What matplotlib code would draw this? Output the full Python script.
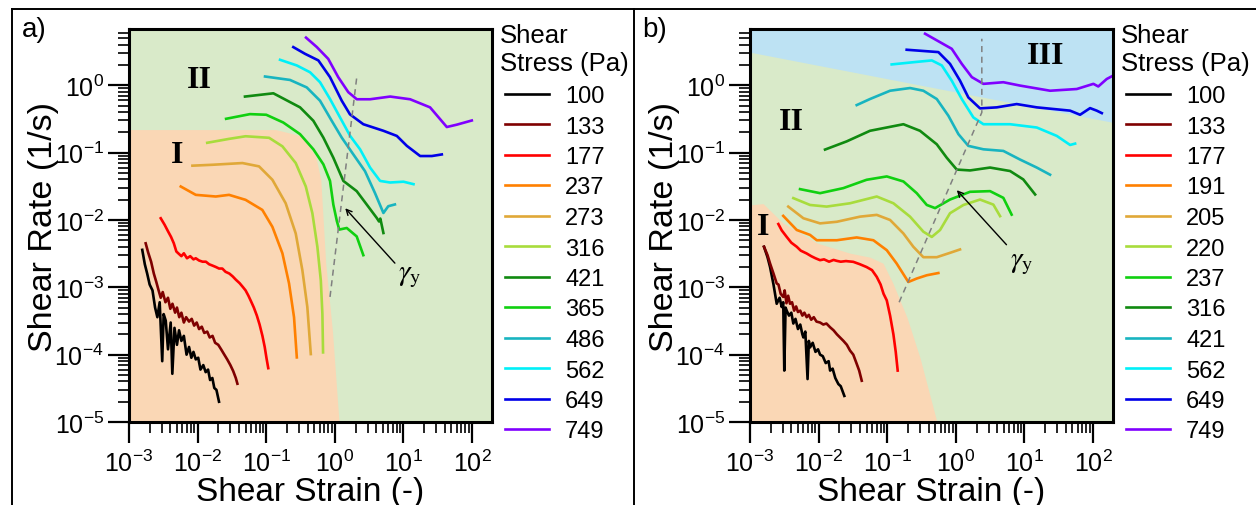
import numpy as np
import matplotlib
matplotlib.use('Agg')
import matplotlib.pyplot as plt
from matplotlib.lines import Line2D
from matplotlib.ticker import LogLocator, NullFormatter

plt.rcParams['font.family'] = ['Liberation Sans', 'DejaVu Sans']
plt.rcParams['mathtext.fontset'] = 'stix'

# ---------------- panel a data ----------------
a_labels = ['100', '133', '177', '237', '273', '316', '421', '365', '486', '562', '649', '749']
a_colors = ['#000000', '#7f0000', '#ff0000', '#ff8000', '#e0a838', '#a8dc3c',
            '#108a10', '#10d010', '#18b4c0', '#00f0f8', '#0000e8', '#8000ff']

a100_x = [0.00156, 0.0017, 0.00184, 0.002, 0.0022, 0.0024, 0.00259, 0.0028, 0.00305, 0.0032, 0.00343,
          0.0037, 0.00405, 0.00428, 0.0046, 0.005, 0.00536, 0.0058, 0.0063, 0.0069, 0.0075, 0.0081,
          0.0087, 0.0094, 0.0102, 0.011, 0.0121, 0.0131, 0.0142, 0.0152, 0.0164, 0.0175, 0.0188, 0.0205]
a100_y = [0.0036, 0.0022, 0.0016, 0.0011, 0.0009, 0.0005, 0.00036, 0.0006, 0.00008, 0.0004, 0.00032,
          0.00012, 0.0003, 0.000052, 0.00025, 0.00014, 0.00023, 0.00016, 0.00019, 0.0001, 0.00013, 0.00009,
          0.00011, 0.000085, 0.00009, 0.00006, 0.00007, 0.000055, 0.00006, 0.000042, 0.000045, 0.000032,
          0.00003, 0.00002]
a133_x = [0.00175, 0.0019, 0.0021, 0.0023, 0.0025, 0.0027, 0.0029, 0.0031, 0.0034, 0.0037, 0.004, 0.0043,
          0.0047, 0.005, 0.0054, 0.0058, 0.0063, 0.0068, 0.0075, 0.0082, 0.0089, 0.0097, 0.0105, 0.0115,
          0.0125, 0.0138, 0.015, 0.0165, 0.018, 0.02, 0.022, 0.0245, 0.027, 0.03, 0.033, 0.036, 0.038]
a133_y = [0.0045, 0.0033, 0.0024, 0.0016, 0.0012, 0.0009, 0.0007, 0.00085, 0.0006, 0.0007, 0.00048,
          0.00057, 0.00042, 0.0005, 0.00036, 0.00042, 0.0003, 0.00036, 0.00031, 0.00034, 0.00027, 0.0003,
          0.00024, 0.00026, 0.00021, 0.00022, 0.00018, 0.00019, 0.00015, 0.00014, 0.00012, 0.0001,
          0.000085, 0.00007, 0.000057, 0.000045, 0.000037]
a177_x = [0.0029, 0.0033, 0.0037, 0.0041, 0.0045, 0.0049, 0.0054, 0.0058, 0.0063, 0.007, 0.0078, 0.0087,
          0.0094, 0.0105, 0.0118, 0.0132, 0.0147, 0.0165, 0.0185, 0.0205, 0.0229, 0.0255, 0.029, 0.0325,
          0.036, 0.041, 0.046, 0.05, 0.055, 0.06, 0.066, 0.073, 0.08, 0.088, 0.095, 0.101, 0.107]
a177_y = [0.0106, 0.0085, 0.0068, 0.0056, 0.0045, 0.0034, 0.0031, 0.0029, 0.0032, 0.0027, 0.0029, 0.0026,
          0.0027, 0.0025, 0.0024, 0.0024, 0.0022, 0.0021, 0.002, 0.0019, 0.0019, 0.0017, 0.0016, 0.00145,
          0.0013, 0.00115, 0.001, 0.0009, 0.00075, 0.00062, 0.0005, 0.00038, 0.00028, 0.00019, 0.00013,
          0.000088, 0.000063]
a237_x = [0.00568, 0.0094, 0.0184, 0.0287, 0.05, 0.0877, 0.123, 0.172, 0.215, 0.254, 0.279]
a237_y = [0.0314, 0.0236, 0.0223, 0.0236, 0.0199, 0.0141, 0.0079, 0.0032, 0.00114, 0.00036, 0.000091]
a273_x = [0.0084, 0.0164, 0.045, 0.0785, 0.123, 0.192, 0.269, 0.336, 0.397, 0.446]
a273_y = [0.064, 0.066, 0.07, 0.0625, 0.0395, 0.0177, 0.0063, 0.0018, 0.00051, 0.000102]
a316_x = [0.0138, 0.0287, 0.05, 0.11, 0.172, 0.269, 0.377, 0.47, 0.556, 0.624, 0.658, 0.673]
a316_y = [0.14, 0.16, 0.175, 0.166, 0.124, 0.07, 0.0314, 0.0126, 0.004, 0.00127, 0.000405, 0.000108]
a421_x = [0.049, 0.127, 0.311, 0.486, 0.68, 0.95, 1.33, 2.08, 2.92, 4.08, 4.4, 4.6, 5.1]
a421_y = [0.68, 0.76, 0.47, 0.297, 0.167, 0.084, 0.038, 0.0268, 0.0169, 0.0107, 0.0095, 0.0105, 0.0064]
a365_x = [0.026, 0.058, 0.1, 0.177, 0.311, 0.486, 0.68, 0.85, 0.95, 1.07, 1.16, 1.49, 2.08, 2.6]
a365_y = [0.318, 0.373, 0.365, 0.28, 0.188, 0.112, 0.067, 0.038, 0.0169, 0.0096, 0.0072, 0.0076, 0.0057, 0.003]
a486_x = [0.096, 0.222, 0.389, 0.608, 0.9, 1.26, 1.86, 2.75, 3.85, 5.1, 6.0, 7.5]
a486_y = [1.35, 1.2, 0.93, 0.59, 0.297, 0.167, 0.094, 0.053, 0.025, 0.0127, 0.016, 0.017]
a562_x = [0.159, 0.279, 0.435, 0.608, 0.85, 1.19, 1.67, 2.33, 3.26, 4.56, 6.38, 10, 14]
a562_y = [2.39, 1.97, 1.56, 1.11, 0.625, 0.333, 0.177, 0.112, 0.06, 0.038, 0.036, 0.037, 0.034]
a649_x = [0.248, 0.368, 0.575, 0.85, 1.26, 1.66, 2.6, 5.1, 8.0, 11.2, 17.5, 25.9, 36.2]
a649_y = [3.69, 2.93, 2.34, 1.32, 0.59, 0.37, 0.264, 0.211, 0.177, 0.126, 0.089, 0.089, 0.094]
a749_x = [0.38, 0.545, 0.8, 1.12, 1.57, 2.09, 3.26, 6.4, 12.5, 24.4, 42.8, 59.8, 99]
a749_y = [5.1, 3.7, 2.47, 1.32, 0.79, 0.62, 0.62, 0.68, 0.62, 0.47, 0.24, 0.26, 0.3]

# region I outline (panel a)
a_reg1_x = [1e-3, 0.138, 0.336, 0.527, 0.624, 0.736, 0.92, 1.15]
a_reg1_y = [0.22, 0.22, 0.175, 0.088, 0.0395, 0.00226, 0.00023, 1e-5]
a_yield_x = [0.85, 2.08]
a_yield_y = [0.00072, 1.29]

# ---------------- panel b data ----------------
b_labels = ['100', '133', '177', '191', '205', '220', '237', '316', '421', '562', '649', '749']
b_colors = ['#000000', '#7f0000', '#ff0000', '#ff8000', '#e0a838', '#a8dc3c',
            '#10d010', '#108a10', '#18b4c0', '#00f0f8', '#0000e8', '#8000ff']

b100_x = [0.0016, 0.0018, 0.00196, 0.0022, 0.00245, 0.0027, 0.0029, 0.00305, 0.00316, 0.0033, 0.00343,
          0.0037, 0.004, 0.00428, 0.0046, 0.005, 0.0054, 0.0058, 0.006, 0.0064, 0.0069, 0.0072, 0.0075,
          0.0082, 0.009, 0.0098, 0.0105, 0.0115, 0.0127, 0.014, 0.0147, 0.016, 0.0175, 0.0194, 0.021, 0.0237]
b100_y = [0.004, 0.0028, 0.002, 0.0011, 0.00057, 0.0007, 0.00051, 0.0006, 0.000058, 0.0005, 0.00045,
          0.00038, 0.00042, 0.00029, 0.00034, 0.00024, 0.00028, 0.0002, 0.00018, 0.00022, 0.0000434,
          0.00016, 0.000128, 0.00015, 0.00011, 0.00012, 0.0001, 0.000095, 0.000075, 0.00008, 0.000058,
          0.000062, 0.000045, 0.0000366, 0.000034, 0.0000244]
b133_x = [0.0016, 0.0018, 0.00196, 0.0022, 0.00245, 0.0026, 0.0028, 0.00305, 0.0032, 0.0034, 0.0036,
          0.00383, 0.0041, 0.0044, 0.0047, 0.005, 0.0054, 0.0058, 0.0062, 0.0067, 0.0072, 0.0078, 0.0085,
          0.0093, 0.0105, 0.0117, 0.013, 0.0147, 0.0165, 0.0185, 0.0205, 0.023, 0.0258, 0.0287, 0.032,
          0.0359, 0.039, 0.0425]
b133_y = [0.004, 0.003, 0.00226, 0.0016, 0.00114, 0.0011, 0.0008, 0.00072, 0.0009, 0.00058, 0.00075,
          0.00057, 0.0006, 0.00045, 0.00052, 0.00043, 0.00045, 0.00038, 0.00042, 0.00036, 0.00039, 0.00033,
          0.00036, 0.00031, 0.0003, 0.00028, 0.00029, 0.000255, 0.00023, 0.0002, 0.00018, 0.00016, 0.00014,
          0.000115, 0.0001, 0.000073, 0.000058, 0.000041]
b177_x = [0.00259, 0.0029, 0.00343, 0.004, 0.0048, 0.0055, 0.0067, 0.0078, 0.009, 0.0105, 0.012, 0.0142,
          0.0165, 0.0184, 0.021, 0.025, 0.032, 0.04, 0.05, 0.06, 0.0703, 0.08, 0.0884, 0.0984, 0.11, 0.123,
          0.133, 0.142]
b177_y = [0.0087, 0.007, 0.0056, 0.0046, 0.004, 0.0035, 0.00318, 0.0029, 0.0027, 0.00253, 0.0026, 0.0024,
          0.00255, 0.00247, 0.0024, 0.00245, 0.00239, 0.0022, 0.002, 0.0018, 0.00143, 0.0011, 0.0008,
          0.00064, 0.00038, 0.0002, 0.00011, 0.000058]
b191_x = [0.00305, 0.0048, 0.0075, 0.0094, 0.0184, 0.0359, 0.0628, 0.0984, 0.137, 0.203, 0.269, 0.377, 0.556]
b191_y = [0.0115, 0.0071, 0.006, 0.005, 0.005, 0.0055, 0.005, 0.00356, 0.00226, 0.0012, 0.00135, 0.00151, 0.00163]
b205_x = [0.00361, 0.006, 0.0105, 0.0184, 0.0401, 0.0703, 0.11, 0.172, 0.24, 0.336, 0.527, 0.822, 1.15]
b205_y = [0.0158, 0.0106, 0.0089, 0.0094, 0.0112, 0.0119, 0.01, 0.0063, 0.004, 0.0028, 0.0028, 0.00325, 0.00365]
b220_x = [0.00428, 0.0075, 0.0131, 0.0287, 0.0703, 0.123, 0.215, 0.336, 0.446, 0.589, 0.822, 1.29, 2.25, 3.52, 4.41]
b220_y = [0.0211, 0.0167, 0.0158, 0.0177, 0.0223, 0.0177, 0.0112, 0.0067, 0.0056, 0.0071, 0.0126, 0.0167,
          0.0201, 0.0169, 0.0114]
b237_x = [0.00536, 0.0105, 0.0229, 0.05, 0.0984, 0.172, 0.269, 0.377, 0.498, 0.822, 1.61, 3.15, 4.92, 6.5]
b237_y = [0.0287, 0.025, 0.0297, 0.0395, 0.0443, 0.0373, 0.025, 0.0167, 0.015, 0.0201, 0.0262, 0.0268, 0.0213, 0.012]
b316_x = [0.0124, 0.0257, 0.0561, 0.172, 0.3, 0.527, 0.736, 1.03, 1.61, 3.15, 6.17, 9.6, 14.3]
b316_y = [0.111, 0.147, 0.211, 0.264, 0.211, 0.133, 0.084, 0.056, 0.0544, 0.06, 0.0533, 0.04, 0.0239]
b421_x = [0.0359, 0.0561, 0.11, 0.215, 0.336, 0.527, 0.778, 1.09, 1.52, 2.52, 4.92, 8.6, 15.1, 23.6]
b421_y = [0.508, 0.625, 0.83, 0.91, 0.83, 0.625, 0.353, 0.188, 0.126, 0.112, 0.106, 0.079, 0.06, 0.047]
b562_x = [0.116, 0.24, 0.446, 0.624, 0.871, 1.22, 1.8, 2.52, 6.17, 15.1, 29.6, 46.2, 54.7]
b562_y = [2.04, 2.2, 2.34, 1.97, 1.17, 0.625, 0.333, 0.264, 0.264, 0.236, 0.177, 0.13, 0.136]
b649_x = [0.192, 0.556, 0.822, 1.15, 1.52, 2.25, 3.95, 7.7, 15.1, 46.2, 64.6, 90.4, 113, 134]
b649_y = [3.37, 3.11, 2.08, 1.17, 0.66, 0.454, 0.47, 0.526, 0.47, 0.42, 0.365, 0.458, 0.42, 0.386]
b749_x = [0.356, 0.527, 0.871, 1.22, 1.71, 2.52, 4.92, 8.6, 23.6, 57.8, 101, 119, 158, 198]
b749_y = [5.83, 4.65, 3.48, 2.08, 1.32, 1.05, 1.11, 0.99, 0.83, 0.88, 1.05, 0.96, 1.24, 1.4]

b_reg1_x = [1e-3, 0.00155, 0.00303, 0.0095, 0.0287, 0.0561, 0.0868, 0.121, 0.194, 0.3, 0.53]
b_reg1_y = [0.0167, 0.0175, 0.009, 0.00454, 0.00321, 0.0028, 0.00228, 0.00115, 0.000357, 0.00009, 1e-5]
b_reg3_x = [1e-3, 200]
b_reg3_y = [3.1, 0.28]
b_yield_x = [0.149, 2.39, 2.39]
b_yield_y = [0.0006, 0.395, 4.91]

GREEN = '#d9eac9'
PEACH = '#fad7b5'
BLUE = '#bde2f3'
XMIN, XMAX = 1e-3, 195
YMIN, YMAX = 1e-5, 6.85

a_series = [(a100_x, a100_y), (a133_x, a133_y), (a177_x, a177_y), (a237_x, a237_y),
            (a273_x, a273_y), (a316_x, a316_y), (a421_x, a421_y), (a365_x, a365_y),
            (a486_x, a486_y), (a562_x, a562_y), (a649_x, a649_y), (a749_x, a749_y)]
b_series = [(b100_x, b100_y), (b133_x, b133_y), (b177_x, b177_y), (b191_x, b191_y),
            (b205_x, b205_y), (b220_x, b220_y), (b237_x, b237_y), (b316_x, b316_y),
            (b421_x, b421_y), (b562_x, b562_y), (b649_x, b649_y), (b749_x, b749_y)]

W, H = 1256, 506
fig = plt.figure(figsize=(W / 100, H / 100), dpi=100)
ax_a = fig.add_axes([129 / W, 83 / H, 363 / W, 393 / H])
ax_b = fig.add_axes([750 / W, 83 / H, 363 / W, 393 / H])


def style(ax):
    ax.set_xscale('log')
    ax.set_yscale('log')
    ax.set_xlim(XMIN, XMAX)
    ax.set_ylim(YMIN, YMAX)
    ax.set_facecolor(GREEN)
    for s in ax.spines.values():
        s.set_linewidth(2.2)
    ax.xaxis.set_major_locator(LogLocator(base=10, numticks=20))
    ax.yaxis.set_major_locator(LogLocator(base=10, numticks=20))
    ax.xaxis.set_minor_locator(LogLocator(base=10, subs=np.arange(2, 10), numticks=100))
    ax.yaxis.set_minor_locator(LogLocator(base=10, subs=np.arange(2, 10), numticks=100))
    ax.xaxis.set_minor_formatter(NullFormatter())
    ax.yaxis.set_minor_formatter(NullFormatter())
    ax.tick_params(which='major', direction='out', length=15, width=1.6, labelsize=18)
    ax.tick_params(axis='x', which='major', pad=5)
    ax.tick_params(axis='y', which='major', pad=3)
    ax.tick_params(which='minor', direction='out', length=8, width=1.2)
    ax.tick_params(top=False, right=False, which='both')
    ax.set_xlabel('Shear Strain (-)', fontsize=24, va='center')
    ax.xaxis.set_label_coords(0.5, -0.178)
    ax.set_ylabel('Shear Rate (1/s)', fontsize=24.5, va='center')
    ax.yaxis.set_label_coords(-0.235, 0.5)


def add_legend(ax, lines, labels, x_left):
    fig.text(x_left / W, 1 - 24 / H, 'Shear\nStress (Pa)', fontsize=18.5, ha='left', va='top',
             linespacing=1.22)
    ax.legend(lines, labels, loc='upper left', bbox_to_anchor=((x_left + 5) / W, 1 - 86 / H),
              bbox_transform=fig.transFigure, frameon=False, fontsize=17,
              handlelength=1.85, handletextpad=0.7, labelspacing=0.36,
              borderpad=0, borderaxespad=0)


roman = dict(fontfamily='Liberation Serif', fontweight='bold', fontsize=23, ha='center', va='center')
lw = 1.9

# panel a
style(ax_a)
ax_a.fill_between(a_reg1_x, YMIN, a_reg1_y, color=PEACH, lw=0, zorder=0.5)
a_lines = []
for (x, y), c in zip(a_series, a_colors):
    a_lines += ax_a.plot(x, y, color=c, lw=lw)
ax_a.plot(a_yield_x, a_yield_y, color='#808080', ls=(0, (4, 3)), lw=1.1)
ax_a.annotate('', xy=(1.33, 0.016), xytext=(7.98, 0.00213),
              arrowprops=dict(arrowstyle='->', color='k', lw=1.0))
ax_a.text(12.5, 0.0015, r'$\gamma_{\mathrm{y}}$', fontsize=21, ha='center', va='center')
ax_a.text(0.0105, 1.23, 'II', **roman)
ax_a.text(0.00495, 0.093, 'I', **roman)
add_legend(ax_a, a_lines, a_labels, 500)

# panel b
style(ax_b)
ax_b.fill_between(b_reg1_x, YMIN, b_reg1_y, color=PEACH, lw=0, zorder=0.5)
ax_b.fill_between(b_reg3_x, b_reg3_y, 10, color=BLUE, lw=0, zorder=0.5)
b_lines = []
for (x, y), c in zip(b_series, b_colors):
    b_lines += ax_b.plot(x, y, color=c, lw=lw)
ax_b.plot(b_yield_x, b_yield_y, color='#808080', ls=(0, (4, 3)), lw=1.1)
ax_b.annotate('', xy=(0.97, 0.0297), xytext=(5.82, 0.004),
              arrowprops=dict(arrowstyle='->', color='k', lw=1.0))
ax_b.text(9.2, 0.00236, r'$\gamma_{\mathrm{y}}$', fontsize=21, ha='center', va='center')
ax_b.text(0.00405, 0.293, 'II', **roman)
ax_b.text(20, 2.77, 'III', **roman)
ax_b.text(0.00156, 0.0079, 'I', **roman)
add_legend(ax_b, b_lines, b_labels, 1121)

# panel labels and frames
fig.text(22 / W, 1 - 30 / H, 'a)', fontsize=20, va='center', ha='left')
fig.text(642 / W, 1 - 30 / H, 'b)', fontsize=20, va='center', ha='left')
for xs, ys in [([12 / W, 1], [1 - 10 / H, 1 - 10 / H]),
               ([12 / W, 12 / W], [0, 1 - 10 / H]),
               ([634 / W, 634 / W], [0, 1 - 10 / H])]:
    fig.add_artist(Line2D(xs, ys, transform=fig.transFigure, color='k', lw=1.4))

fig.savefig('out.png', dpi=100)
